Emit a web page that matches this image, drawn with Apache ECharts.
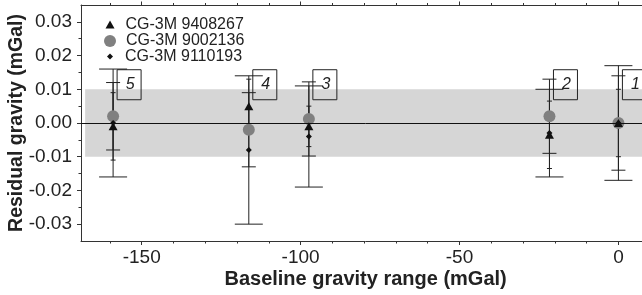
<!DOCTYPE html>
<html>
<head>
<meta charset="utf-8">
<script src="https://cdn.jsdelivr.net/npm/echarts@6/dist/echarts.min.js"></script>
<style>
html,body{margin:0;padding:0;background:#fff;overflow:hidden;}
#c{width:660px;height:295px;}
</style>
</head>
<body>
<div id="c"></div>
<script>
// ---- data ----
const groupLabels = ['5', '4', '3', '2', '1'];
const baselineRange = [-159, -116.3, -97.4, -21.7, 0];
const seriesNames = ['CG-3M 9408267', 'CG-3M 9002136', 'CG-3M 9110193'];
const residual9408267 = [-0.001, 0.005, -0.001, -0.0035, 0];
const error9408267    = [0.010, 0.008, 0.006, 0.010, 0.010];
const residual9002136 = [0.002, -0.002, 0.0012, 0.002, 0];
const error9002136    = [0.010, 0.011, 0.011, 0.011, 0.014];
const residual9110193 = [0, -0.008, -0.004, -0.003, 0];
const error9110193    = [0.016, 0.022, 0.015, 0.013, 0.017];
const xMajorTicks = [-150, -100, -50, 0];
const xMinorTicks = [-160, -140, -130, -120, -110, -90, -80, -70, -60, -40, -30, -20, -10];
const yMajorTicks = [-0.03, -0.02, -0.01, 0, 0.01, 0.02, 0.03];
const yMinorTicks = [-0.025, -0.015, -0.005, 0.005, 0.015, 0.025];

const FONT = "'Liberation Sans', Arial, sans-serif";
const TXT = '#222';

function pts(vals) { return baselineRange.map((x, i) => [x, vals[i]]); }
function bars(vals, errs) { return baselineRange.map((x, i) => [x, vals[i] - errs[i], vals[i] + errs[i]]); }

function errRender(capW) {
  return function (params, api) {
    const x = api.value(0);
    const lo = api.coord([x, api.value(1)]);
    const hi = api.coord([x, api.value(2)]);
    const st = { stroke: '#222', lineWidth: 1 };
    const h = capW / 2;
    return {
      type: 'group',
      children: [
        { type: 'line', shape: { x1: lo[0], y1: lo[1], x2: hi[0], y2: hi[1] }, style: st },
        { type: 'line', shape: { x1: hi[0] - h, y1: hi[1], x2: hi[0] + h, y2: hi[1] }, style: st },
        { type: 'line', shape: { x1: lo[0] - h, y1: lo[1], x2: lo[0] + h, y2: lo[1] }, style: st }
      ]
    };
  };
}

const xBase = { type: 'value', min: -169.1, max: 10, splitLine: { show: false }, gridIndex: 0 };
const yBase = { type: 'value', min: -0.035, max: 0.035, splitLine: { show: false } };

const chart = echarts.init(document.getElementById('c'));
chart.setOption({
  animation: false,
  grid: { left: 81, top: 5, right: 9.8, bottom: 54, containLabel: false, outerBoundsMode: 'none' },
  xAxis: [
    Object.assign({}, xBase, {
      position: 'bottom',
      name: 'Baseline gravity range (mGal)', nameLocation: 'middle', nameGap: 28, nameMoveOverlap: false,
      nameTextStyle: { fontFamily: FONT, fontSize: 20, fontWeight: 'bold', color: TXT },
      axisLine: { show: true, onZero: false, lineStyle: { color: '#333', width: 1 } },
      axisTick: { show: true, inside: false, length: 4, customValues: xMajorTicks, lineStyle: { color: '#333' } },
      axisLabel: { show: true, customValues: xMajorTicks, margin: 7, fontFamily: FONT, fontSize: 19, color: TXT }
    }),
    Object.assign({}, xBase, {
      position: 'bottom',
      axisLine: { show: false, onZero: false },
      axisTick: { show: true, length: 2.5, customValues: xMinorTicks, lineStyle: { color: '#333' } },
      axisLabel: { show: false }
    }),
    Object.assign({}, xBase, {
      position: 'top',
      axisLine: { show: true, onZero: false, lineStyle: { color: '#333', width: 1 } },
      axisTick: { show: true, length: 3.5, customValues: xMajorTicks, lineStyle: { color: '#333' } },
      axisLabel: { show: false }
    }),
    Object.assign({}, xBase, {
      position: 'top',
      axisLine: { show: false, onZero: false },
      axisTick: { show: true, length: 2, customValues: xMinorTicks, lineStyle: { color: '#333' } },
      axisLabel: { show: false }
    })
  ],
  yAxis: [
    Object.assign({}, yBase, {
      position: 'left',
      name: 'Residual gravity (mGal)', nameLocation: 'middle', nameGap: 54, nameMoveOverlap: false,
      nameTextStyle: { fontFamily: FONT, fontSize: 19.5, fontWeight: 'bold', color: TXT },
      axisLine: { show: true, onZero: false, lineStyle: { color: '#333', width: 1 } },
      axisTick: { show: true, length: 4, customValues: yMajorTicks, lineStyle: { color: '#333' } },
      axisLabel: { show: true, customValues: yMajorTicks, margin: 9, fontFamily: FONT, fontSize: 19, color: TXT,
        formatter: v => (Math.abs(v) < 1e-9 ? 0 : v).toFixed(2) }
    }),
    Object.assign({}, yBase, {
      position: 'left',
      axisLine: { show: false, onZero: false },
      axisTick: { show: true, length: 2.5, customValues: yMinorTicks, lineStyle: { color: '#333' } },
      axisLabel: { show: false }
    })
  ],
  legend: [
    { data: [seriesNames[0]], orient: 'vertical', left: 105.5, top: 16.5, padding: 0, itemWidth: 9, itemHeight: 8,
      textStyle: { fontFamily: FONT, fontSize: 16, color: TXT, padding: [0, 0, 0, 6] }, selectedMode: false },
    { data: [seriesNames[1]], orient: 'vertical', left: 104, top: 33, padding: 0, itemWidth: 12, itemHeight: 12,
      textStyle: { fontFamily: FONT, fontSize: 16, color: TXT, padding: [0, 0, 0, 5] }, selectedMode: false },
    { data: [seriesNames[2]], orient: 'vertical', left: 107, top: 48.5, padding: 0, itemWidth: 6, itemHeight: 6,
      textStyle: { fontFamily: FONT, fontSize: 16, color: TXT, padding: [0, 0, 0, 7] }, selectedMode: false }
  ],
  series: [
    {
      type: 'line', data: [], silent: true, z: 1,
      markArea: { silent: true, itemStyle: { color: '#d6d6d6' },
        data: [[{ xAxis: -167.8, yAxis: -0.01 }, { xAxis: 10, yAxis: 0.01 }]] },
      markLine: { silent: true, symbol: 'none', label: { show: false },
        lineStyle: { color: '#111', width: 1, type: 'solid' }, data: [{ yAxis: 0 }] }
    },
    { type: 'custom', z: 2, renderItem: errRender(28), data: bars(residual9110193, error9110193), silent: true },
    { type: 'custom', z: 2, renderItem: errRender(14), data: bars(residual9002136, error9002136), silent: true },
    { type: 'custom', z: 2, renderItem: errRender(5), data: bars(residual9408267, error9408267), silent: true },
    { name: seriesNames[1], type: 'scatter', z: 3, symbol: 'circle', symbolSize: 12,
      itemStyle: { color: '#808080', opacity: 1 }, data: pts(residual9002136) },
    { name: seriesNames[0], type: 'scatter', z: 4, symbol: 'triangle', symbolSize: [9, 8],
      itemStyle: { color: '#111', opacity: 1 }, data: pts(residual9408267) },
    { name: seriesNames[2], type: 'scatter', z: 5, symbol: 'diamond', symbolSize: 6,
      itemStyle: { color: '#111', opacity: 1 }, data: pts(residual9110193) },
    {
      type: 'custom', z: 6, silent: true,
      data: baselineRange.map((x, i) => [x, i]),
      renderItem: function (params, api) {
        const x = api.value(0);
        const top = api.coord([x, 0.0158]);
        const bot = api.coord([x, 0.0069]);
        const left = top[0] + 4;
        const w = 24;
        return {
          type: 'group',
          children: [
            { type: 'rect', shape: { x: left, y: top[1], width: w, height: bot[1] - top[1] },
              style: { fill: 'rgba(0,0,0,0)', stroke: '#222', lineWidth: 1 } },
            { type: 'text', x: left + w / 2 + 1, y: (top[1] + bot[1]) / 2,
              style: { text: groupLabels[api.value(1)], fontFamily: FONT, fontSize: 16, fontStyle: 'italic',
                fill: TXT, align: 'center', verticalAlign: 'middle' } }
          ]
        };
      }
    }
  ]
});
</script>
</body>
</html>
